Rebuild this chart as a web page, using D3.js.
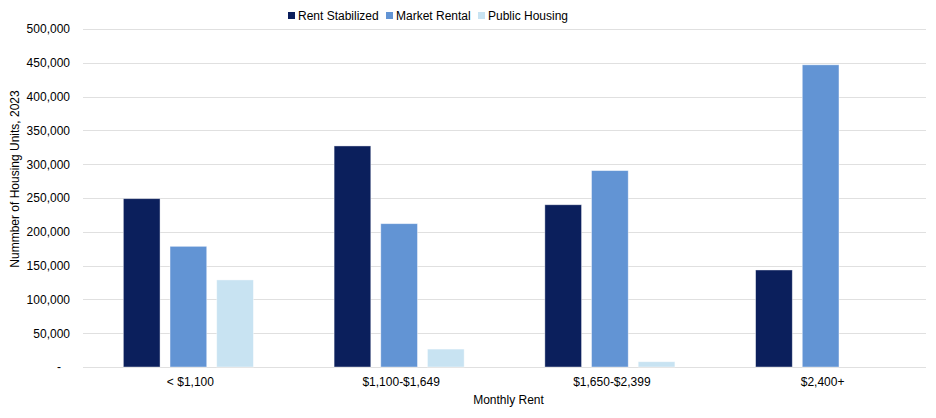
<!DOCTYPE html>
<html>
<head>
<meta charset="utf-8">
<script src="https://cdn.jsdelivr.net/npm/d3@7"></script>
<style>
  body { margin: 0; background: #fff; }
  text { font-family: "Liberation Sans", Arial, Helvetica, sans-serif; fill: #000; }
</style>
</head>
<body>
<svg id="chart" width="936" height="418"></svg>
<script>
// values
const categories = ["< $1,100", "$1,100-$1,649", "$1,650-$2,399", "$2,400+"];
const seriesNames = ["Rent Stabilized", "Market Rental", "Public Housing"];
const rentStabilized = [249000, 327000, 240000, 143500];
const marketRental = [178500, 212000, 290500, 447000];
const publicHousing = [128800, 26500, 7800, 0];
const yTicks = [0, 50000, 100000, 150000, 200000, 250000, 300000, 350000, 400000, 450000, 500000];

const colors = ["#0b1f5c", "#6294d4", "#c8e3f2"];
const seriesValues = [rentStabilized, marketRental, publicHousing];

const svg = d3.select("#chart");
const margin = { top: 29, right: 10, bottom: 51, left: 83 };
const width = 936 - margin.left - margin.right;
const height = 418 - margin.top - margin.bottom;

const g = svg.append("g").attr("transform", `translate(${margin.left},${margin.top})`);

const y = d3.scaleLinear().domain([0, 500000]).range([height, 0]);
const x0 = d3.scaleBand().domain(categories).range([0, width])
  .paddingInner(0.383).paddingOuter(0.1915);
const x1 = d3.scaleBand().domain(seriesNames).range([0, x0.bandwidth()])
  .paddingInner(0.214).paddingOuter(0);

// gridlines
g.append("g")
  .selectAll("line")
  .data(yTicks)
  .join("line")
  .attr("x1", 0).attr("x2", width)
  .attr("y1", d => Math.round(y(d)) + 0.5)
  .attr("y2", d => Math.round(y(d)) + 0.5)
  .attr("stroke", "#e0e0e0")
  .attr("stroke-width", 1);

// y axis labels
const yAxis = d3.axisLeft(y).tickValues(yTicks).tickSize(0).tickPadding(13)
  .tickFormat(d => d === 0 ? "-" : d3.format(",")(d));
g.append("g").call(yAxis)
  .call(a => a.select(".domain").remove())
  .selectAll("text")
  .style("font-size", "12px")
  .attr("dx", d => d === 0 ? "-9px" : 0);

// bars
const rows = categories.map((c, i) => ({ cat: c, vals: seriesNames.map((s, j) => ({ s, v: seriesValues[j][i], j })) }));
g.append("g")
  .selectAll("g")
  .data(rows)
  .join("g")
  .attr("transform", d => `translate(${x0(d.cat)},0)`)
  .selectAll("rect")
  .data(d => d.vals.filter(v => v.v > 0))
  .join("rect")
  .attr("x", d => x1(d.s))
  .attr("width", x1.bandwidth())
  .attr("y", d => y(d.v))
  .attr("height", d => y(0) - y(d.v))
  .attr("fill", d => colors[d.j])
  .attr("stroke", "#fff")
  .attr("stroke-opacity", 0.5)
  .attr("stroke-width", 0.8);

// x axis labels
const xAxis = d3.axisBottom(x0).tickSize(0).tickPadding(10);
g.append("g").attr("transform", `translate(0,${height})`).call(xAxis)
  .call(a => a.select(".domain").remove())
  .selectAll("text")
  .attr("dx", "2px")
  .style("font-size", "12px");

// axis titles
svg.append("text")
  .attr("x", margin.left + width / 2 + 4)
  .attr("y", 404)
  .attr("text-anchor", "middle")
  .style("font-size", "12px")
  .text("Monthly Rent");

svg.append("text")
  .attr("transform", "translate(19,179) rotate(-90)")
  .attr("text-anchor", "middle")
  .style("font-size", "12px")
  .text("Nummber of Housing Units, 2023");

// legend
const legendX = [288, 386, 478];
const legend = svg.append("g")
  .selectAll("g")
  .data(seriesNames)
  .join("g")
  .attr("transform", (d, i) => `translate(${legendX[i]},12)`);
legend.append("rect")
  .attr("width", 7).attr("height", 7)
  .attr("fill", (d, i) => colors[i]);
legend.append("text")
  .attr("x", 10).attr("y", 7.5)
  .style("font-size", "12px")
  .text(d => d);
</script>
</body>
</html>
